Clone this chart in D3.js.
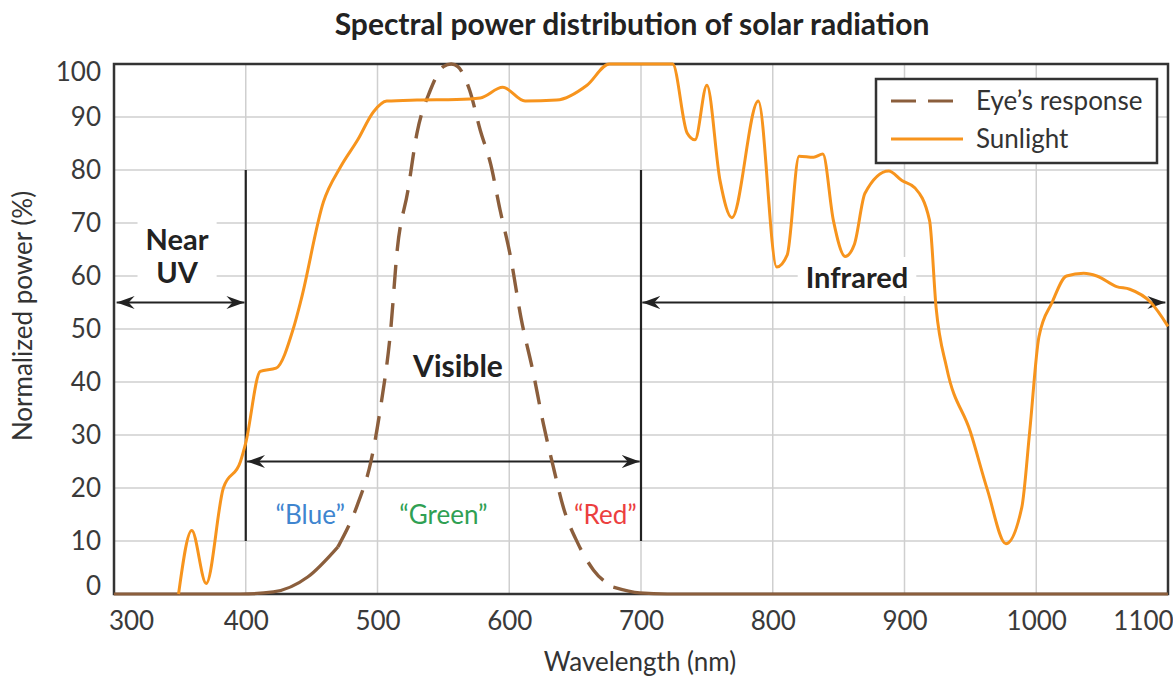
<!DOCTYPE html>
<html lang="en">
<head>
<meta charset="utf-8">
<title>Spectral power distribution of solar radiation</title>
<script src="https://cdn.jsdelivr.net/npm/d3@7"></script>
<style>
  body { margin: 0; background: #fff; }
  text { font-family: Lato, "Open Sans", sans-serif; fill: #333; }
  .grid line { stroke: #cfcfcf; stroke-width: 1.5; }
  .tick text { font-size: 26px; fill: #3a3a3a; font-family: Lato, sans-serif; }
</style>
</head>
<body>
<script>
// ---- data ----
var sunNm  = [349, 359, 370, 383, 396, 400, 411, 423, 436, 442, 459, 472, 485, 497, 507, 530, 560, 578, 595, 612, 636, 659, 676, 700, 724,
              735, 741, 750, 760, 769, 789, 803, 811, 820, 831, 838, 846, 855, 862, 870, 888, 898, 908, 919, 924, 932, 950, 963, 977, 989,
              995, 1002, 1012, 1023, 1036, 1046, 1061, 1071, 1087, 1100];
var sunPct = [0, 12, 2, 20, 25, 28.5, 42, 42.6, 50, 55.5, 74, 80.6, 85.7, 91, 93, 93.2, 93.3, 93.6, 95.6, 93, 93.2, 96, 100, 100, 100,
              87, 85.7, 96, 78, 71, 93, 61.7, 64, 82.6, 82.4, 83, 70.5, 63.7, 66, 75.6, 79.8, 78, 76.6, 70.5, 54, 42.7, 30.6, 19.6, 9.5, 16.3,
              30.6, 48.5, 55, 60, 60.5, 60, 58, 57.5, 55, 50.5];

var eyeNm  = [300, 396, 421, 447, 470, 485, 495, 502, 510, 515, 523, 530, 540, 550, 556, 561, 570, 578, 586, 593, 601, 609, 618, 626,
              634, 641, 652, 664, 679, 699, 720, 1100];
var eyePct = [0, 0, 0.4, 3.2, 8.9, 17, 25, 34.7, 49.8, 65, 76, 87, 95, 99.5, 100, 99.5, 95, 87.5, 81, 72.5, 63.6, 52, 42, 32,
              23.4, 16.4, 9.6, 4.5, 1.3, 0.2, 0, 0];

var xTicks = [300, 400, 500, 600, 700, 800, 900, 1000, 1100];
var yTicks = [0, 10, 20, 30, 40, 50, 60, 70, 80, 90, 100];

var sunColor = "#f7941d";
var eyeColor = "#8b5e3c";

var w = 1173, h = 685;
var padL = 114, padR = 1168, padT = 64, padB = 594;

var svg = d3.select("body").append("svg")
  .attr("width", w)
  .attr("height", h);

var x = d3.scaleLinear().domain([300, 1100]).range([padL, padR]);
var y = d3.scaleLinear().domain([0, 100]).range([padB, padT]);

// arrowhead marker
var defs = svg.append("defs");
defs.append("marker")
  .attr("id", "arrow")
  .attr("viewBox", "-18 -7 20 14")
  .attr("refX", 0).attr("refY", 0)
  .attr("markerWidth", 20).attr("markerHeight", 14)
  .attr("markerUnits", "userSpaceOnUse")
  .attr("orient", "auto-start-reverse")
  .append("path")
  .attr("d", "M0,0 L-18,-6.5 L-12,0 L-18,6.5 Z")
  .attr("fill", "#222");

// gridlines
svg.append("g").attr("class", "grid")
  .selectAll("line").data(xTicks.slice(1, -1)).enter().append("line")
  .attr("x1", d => x(d)).attr("x2", d => x(d))
  .attr("y1", padT).attr("y2", padB);
svg.append("g").attr("class", "grid")
  .selectAll("line").data(yTicks.slice(1, -1)).enter().append("line")
  .attr("x1", padL).attr("x2", padR)
  .attr("y1", d => y(d)).attr("y2", d => y(d));

// title
svg.append("text")
  .attr("x", 632).attr("y", 35)
  .attr("text-anchor", "middle")
  .style("font-size", "30px").style("font-weight", "bold").style("fill", "#222")
  .text("Spectral power distribution of solar radiation");

// axes
var xAxis = svg.append("g")
  .attr("transform", "translate(0," + padB + ")")
  .call(d3.axisBottom(x).tickValues(xTicks).tickFormat(d3.format("d")).tickSize(0).tickPadding(18));
xAxis.select(".domain").remove();
xAxis.selectAll(".tick text")
  .attr("dx", d => d == 300 ? 17 : d == 1100 ? -25 : 0);

var yAxis = svg.append("g")
  .attr("transform", "translate(" + padL + ",0)")
  .call(d3.axisLeft(y).tickValues(yTicks).tickFormat(d3.format("d")).tickSize(0).tickPadding(13));
yAxis.select(".domain").remove();
yAxis.selectAll(".tick text")
  .attr("dy", d => d == 100 ? "0.62em" : d == 0 ? "0.0em" : "0.32em");

svg.append("text")
  .attr("x", 640).attr("y", 671)
  .attr("text-anchor", "middle")
  .style("font-size", "26px")
  .text("Wavelength (nm)");

svg.append("text")
  .attr("transform", "translate(32,316) rotate(-90)")
  .attr("text-anchor", "middle")
  .style("font-size", "26px")
  .text("Normalized power (%)");

// region labels with white backing to break gridlines
function boxLabel(lines, cx, baseline, lineH) {
  var g = svg.append("g");
  var t = g.append("text")
    .attr("text-anchor", "middle")
    .style("font-size", "29px").style("font-weight", "bold").style("fill", "#222");
  lines.forEach(function(s, i) {
    t.append("tspan").attr("x", cx).attr("y", baseline + i * lineH).text(s);
  });
  var bb = t.node().getBBox();
  g.insert("rect", "text")
    .attr("x", bb.x - 8).attr("y", bb.y - 2)
    .attr("width", bb.width + 16).attr("height", bb.height + 4)
    .attr("fill", "#fff");
}
boxLabel(["Near", "UV"], 177, 250, 33);
boxLabel(["Infrared"], 857, 288, 0);

svg.append("text")
  .attr("x", 458).attr("y", 377)
  .attr("text-anchor", "middle")
  .style("font-size", "30px").style("font-weight", "bold").style("fill", "#222")
  .text("Visible");

// divider lines at 400 and 700 nm
svg.selectAll("line.div").data([400, 700]).enter().append("line")
  .attr("class", "div")
  .attr("x1", d => x(d)).attr("x2", d => x(d))
  .attr("y1", y(80)).attr("y2", y(10))
  .attr("stroke", "#222").attr("stroke-width", 2.2);

// range arrows
var arrows = [
  { a: 302, b: 399, v: 55 },
  { a: 401, b: 699, v: 25 },
  { a: 701, b: 1098, v: 55 }
];
svg.selectAll("line.arr").data(arrows).enter().append("line")
  .attr("class", "arr")
  .attr("x1", d => x(d.a)).attr("x2", d => x(d.b))
  .attr("y1", d => y(d.v)).attr("y2", d => y(d.v))
  .attr("stroke", "#222").attr("stroke-width", 2.2)
  .attr("marker-start", "url(#arrow)")
  .attr("marker-end", "url(#arrow)");

// colour labels
var colorLabels = [
  { t: "\u201cBlue\u201d", nm: 449, c: "#3f85cf" },
  { t: "\u201cGreen\u201d", nm: 550, c: "#2fa053" },
  { t: "\u201cRed\u201d", nm: 673, c: "#ec3f3f" }
];
svg.selectAll("text.col").data(colorLabels).enter().append("text")
  .attr("class", "col")
  .attr("x", d => x(d.nm)).attr("y", 524)
  .attr("text-anchor", "middle")
  .style("font-size", "26px")
  .style("fill", d => d.c)
  .text(d => d.t);

// frame
svg.append("rect")
  .attr("x", padL).attr("y", padT)
  .attr("width", padR - padL).attr("height", padB - padT)
  .attr("fill", "none").attr("stroke", "#333").attr("stroke-width", 2.5);

// curves
var line = d3.line()
  .x(d => x(d[0])).y(d => y(d[1]))
  .curve(d3.curveMonotoneX);

var eyeData = eyeNm.map((d, i) => [d, eyePct[i]]);
var sunData = sunNm.map((d, i) => [d, sunPct[i]]);

// eye's response: solid tails, dashed centre
svg.append("path")
  .datum(eyeData.filter(d => d[0] <= 470))
  .attr("d", line)
  .attr("fill", "none").attr("stroke", eyeColor).attr("stroke-width", 3.2);
svg.append("path")
  .datum(eyeData.filter(d => d[0] >= 679))
  .attr("d", line)
  .attr("fill", "none").attr("stroke", eyeColor).attr("stroke-width", 3.2);
svg.append("path")
  .datum(eyeData.filter(d => d[0] >= 470 && d[0] <= 679))
  .attr("d", line)
  .attr("fill", "none").attr("stroke", eyeColor).attr("stroke-width", 3.4)
  .attr("stroke-dasharray", "24,14");

svg.append("path")
  .datum(sunData)
  .attr("d", line)
  .attr("fill", "none").attr("stroke", sunColor).attr("stroke-width", 3)
  .attr("stroke-linejoin", "round");

// legend
var lg = svg.append("g").attr("transform", "translate(876,79)");
lg.append("rect")
  .attr("width", 281).attr("height", 84)
  .attr("fill", "#fff").attr("stroke", "#333").attr("stroke-width", 2.5);
var legendItems = [
  { name: "Eye\u2019s response", c: eyeColor, dash: "25,12" },
  { name: "Sunlight", c: sunColor, dash: null }
];
var li = lg.selectAll("g.item").data(legendItems).enter().append("g")
  .attr("class", "item")
  .attr("transform", (d, i) => "translate(0," + (22 + i * 38) + ")");
li.append("line")
  .attr("x1", 15).attr("x2", 87)
  .attr("stroke", d => d.c).attr("stroke-width", 3)
  .attr("stroke-dasharray", d => d.dash);
li.append("text")
  .attr("x", 100).attr("y", 9)
  .style("font-size", "26px")
  .text(d => d.name);
</script>
</body>
</html>
